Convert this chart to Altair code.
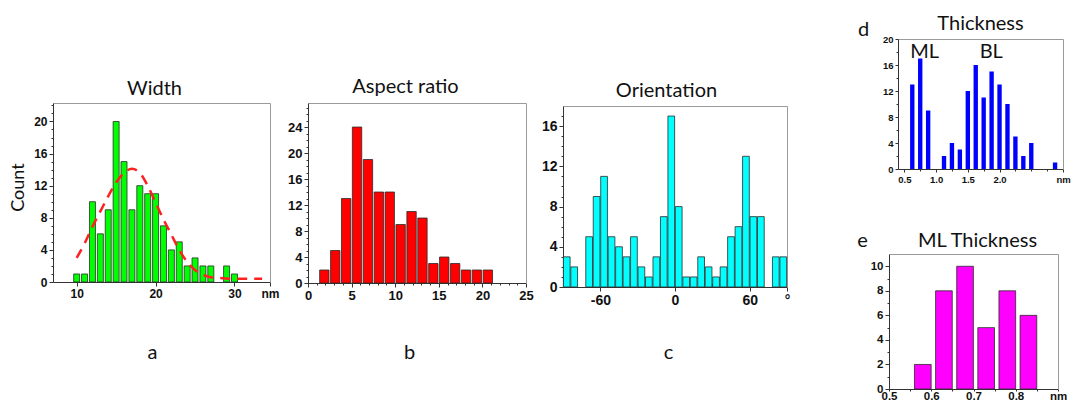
import altair as alt
import pandas as pd

W, H = 1071, 404
TF = "Lato"             # titles
LF = "Liberation Sans"  # tick labels
AX = "#333333"
BOX = "#9a9a9a"

# ---------------- data ----------------
width_nm = [10, 11, 12, 13, 14, 15, 16, 17, 18, 19, 20, 21, 22, 23, 24, 25, 26, 27, 28, 29, 30]
width_count = [1, 1, 10, 6, 9, 20, 15, 9, 12, 11, 11, 7, 4, 5, 2, 3, 2, 2, 0, 2, 1]
fit_nm = [10, 11, 12, 13, 14, 15, 16, 17, 18, 19, 20, 21, 22, 23, 24, 25, 26, 27, 28, 30, 33.5]
fit_count = [3.0, 4.8, 6.9, 8.8, 10.7, 12.4, 13.6, 14.1, 13.6, 12.0, 9.9, 7.8, 5.9, 4.0,
             2.5, 1.5, 0.9, 0.6, 0.5, 0.4, 0.4]

aspect_center = [1.875, 3.125, 4.375, 5.625, 6.875, 8.125, 9.375, 10.625, 11.875,
                 13.125, 14.375, 15.625, 16.875, 18.125, 19.375, 20.625]
aspect_count = [2, 5, 13, 24, 19, 14, 14, 9, 11, 10, 3, 4, 3, 2, 2, 2]

orient_center = [-87, -81, -75, -69, -63, -57, -51, -45, -39, -33, -27, -21, -15, -9, -3,
                 3, 9, 15, 21, 27, 33, 39, 45, 51, 57, 63, 69, 75, 81, 87]
orient_count = [3, 2, 0, 5, 9, 11, 5, 4, 3, 5, 2, 1, 3, 7, 17,
                8, 1, 1, 3, 2, 1, 2, 5, 6, 13, 7, 7, 0, 3, 3]

thick_center = [0.625, 0.75, 0.875, 1.0, 1.125, 1.25, 1.375, 1.5, 1.625, 1.75,
                1.875, 2.0, 2.125, 2.25, 2.375, 2.5, 2.625, 2.75, 2.875]
thick_count = [13, 17, 9, 0, 2, 4, 3, 12, 16, 11, 15, 13, 10, 5, 2, 4, 0, 0, 1]
thick_note = ["ML", "BL"]
thick_note_x = [0.82, 1.87]
thick_note_y = [18.0, 18.0]

ml_center = [0.58, 0.63, 0.68, 0.73, 0.78, 0.83]
ml_count = [2, 8, 10, 5, 8, 6]


def bars_df(centers, counts, binw, frac):
    df = pd.DataFrame({"c": centers, "n": counts})
    df = df[df["n"] > 0].copy()
    df["x0"] = df["c"] - binw * frac / 2
    df["x1"] = df["c"] + binw * frac / 2
    df["z"] = 0
    return df


panels = {
    "a": dict(df=bars_df(width_nm, width_count, 1.0, 0.76), fill="#00ff00", stroke="#2b2b2b", sw=0.8,
              xdom=[7, 34.5], xr=[53, 270], ydom=[0, 22.3], yr=[282, 103],
              xt=[10, 20, 30, 34.5], xexpr="datum.value > 34 ? 'nm' : format(datum.value, 'd')",
              yt=[0, 4, 8, 12, 16, 20], xm=[], ym=[v for v in range(1, 23) if v % 4],
              lfs=12, xts=4, xlp=2, title="Width", tpos=(154, 88), letter="a", lpos=(152, 352)),
    "b": dict(df=bars_df(aspect_center, aspect_count, 1.25, 0.86), fill="#ff0000", stroke="#2b2b2b", sw=0.8,
              xdom=[0, 25], xr=[308, 526], ydom=[0, 27.7], yr=[283, 103],
              xt=[0, 5, 10, 15, 20, 25], xexpr="format(datum.value, 'd')",
              yt=[0, 4, 8, 12, 16, 20, 24], xm=[v for v in range(1, 25) if v % 5],
              ym=[v for v in range(1, 28) if v % 4],
              lfs=13, xts=4, xlp=2, title="Aspect ratio", tpos=(405, 86), letter="b", lpos=(409, 352)),
    "c": dict(df=bars_df(orient_center, orient_count, 6.0, 0.9), fill="#00ffff", stroke="#2b2b2b", sw=0.8,
              xdom=[-90, 90], xr=[563, 787], ydom=[0, 18], yr=[287, 106],
              xt=[-60, 0, 60, 90],
              xexpr="datum.value > 80 ? '°' : (datum.value < 0 ? '-' + format(-datum.value, 'd') : format(datum.value, 'd'))",
              yt=[0, 4, 8, 12, 16], xm=[], ym=[v for v in range(1, 18) if v % 4],
              lfs=14, xts=4, xlp=2, title="Orientation", tpos=(666, 90), letter="c", lpos=(668, 352)),
    "d": dict(df=bars_df(thick_center, thick_count, 0.125, 0.55), fill="#0000ff", stroke="#0000ff", sw=0,
              xdom=[0.4, 3.0], xr=[898, 1063], ydom=[0, 20], yr=[169, 39],
              xt=[0.5, 1.0, 1.5, 2.0, 3.0], xexpr="datum.value > 2.9 ? 'nm' : format(datum.value, '.1f')",
              yt=[0, 4, 8, 12, 16, 20], xm=[0.75, 1.25, 1.75, 2.25, 2.5, 2.75],
              ym=[2, 6, 10, 14, 18],
              lfs=9.5, xts=3, xlp=2, title="Thickness", tpos=(980, 23), letter="d", lpos=(863, 29)),
    "e": dict(df=bars_df(ml_center, ml_count, 0.05, 0.79), fill="#ff00ff", stroke="#2b2b2b", sw=0.8,
              xdom=[0.5, 0.9], xr=[889, 1058], ydom=[0, 11], yr=[389, 254],
              xt=[0.5, 0.6, 0.7, 0.8, 0.9], xexpr="datum.value > 0.85 ? 'nm' : format(datum.value, '.1f')",
              yt=[0, 2, 4, 6, 8, 10], xm=[0.55, 0.65, 0.75, 0.85], ym=[1, 3, 5, 7, 9],
              lfs=11.5, xts=2, xlp=-1, title="ML Thickness", tpos=(977, 240), letter="e", lpos=(862, 240)),
}


def sx(p):
    return alt.Scale(domain=p["xdom"], range=p["xr"], nice=False, zero=False)


def sy(p):
    return alt.Scale(domain=p["ydom"], range=p["yr"], nice=False, zero=False)


def axis(**kw):
    base = dict(grid=False, labelFont=LF, labelFontWeight="bold", labelColor="#111111",
                tickColor=AX, domainColor=AX, tickWidth=1, domainWidth=1,
                labelFlush=False, labelOverlap=False,
                titleFont=TF, titleFontWeight="normal", titleColor="#111111",
                titleAlign="center", titleBaseline="middle")
    base.update(kw)
    return alt.Axis(**base)


layers = []
for key, p in panels.items():
    df = p["df"]
    yb, yt_ = p["yr"]
    xl, xrr = p["xr"]
    # --- bars with main axes
    xax = axis(orient="bottom", offset=yb - H, values=p["xt"], labelExpr=p["xexpr"],
               tickSize=p["xts"], labelFontSize=p["lfs"], labelPadding=p["xlp"],
               titleFontSize=20, titleX=p["lpos"][0], titleY=p["lpos"][1] - yb, titleAngle=0)
    if key in ("a", "b", "c"):
        xenc = alt.X("x0:Q", scale=sx(p), axis=xax, title=p["letter"])
    else:
        xenc = alt.X("x0:Q", scale=sx(p), axis=xax, title=None)
    yax_kw = dict(orient="left", offset=-xl, values=p["yt"], format="d",
                  tickSize=4 if key != "d" else 3, labelFontSize=p["lfs"], labelPadding=2)
    if key == "a":
        yax = axis(titleFontSize=18, titleX=18 - xl, titleY=187, titleAngle=270, **yax_kw)
        yenc = alt.Y("n:Q", scale=sy(p), axis=yax, title="Count")
    elif key in ("d", "e"):
        yax = axis(titleFontSize=20, titleX=p["lpos"][0] - xl, titleY=p["lpos"][1], titleAngle=0, **yax_kw)
        yenc = alt.Y("n:Q", scale=sy(p), axis=yax, title=p["letter"])
    else:
        yenc = alt.Y("n:Q", scale=sy(p), axis=axis(**yax_kw), title=None)
    bar_kw = dict(fill=p["fill"], stroke=p["stroke"], strokeWidth=p["sw"])
    layers.append(alt.Chart(df).mark_bar(**bar_kw).encode(x=xenc, x2="x1", y=yenc, y2="z"))

    # --- frame (top + right) with panel title
    top_ax = axis(orient="top", offset=-yt_, ticks=False, labels=False, domainColor=BOX,
                  titleFontSize=20, titleX=p["tpos"][0], titleY=p["tpos"][1] - yt_, titleAngle=0)
    right_ax = axis(orient="right", offset=xrr - W, ticks=False, labels=False, domainColor=BOX)
    layers.append(alt.Chart(df).mark_point(opacity=0).encode(
        x=alt.X("c:Q", scale=sx(p), axis=top_ax, title=p["title"]),
        y=alt.Y("n:Q", scale=sy(p), axis=right_ax, title=None)))

    # --- minor ticks
    if p["xm"] or p["ym"]:
        if p["xm"]:
            xm_enc = alt.X("c:Q", scale=sx(p), title=None,
                           axis=axis(orient="bottom", offset=yb - H, values=p["xm"], labels=False,
                                     domain=False, tickSize=2))
        else:
            xm_enc = alt.X("c:Q", scale=sx(p), axis=None)
        ym_enc = alt.Y("n:Q", scale=sy(p), title=None,
                       axis=axis(orient="left", offset=-xl, values=p["ym"], labels=False,
                                 domain=False, tickSize=2))
        layers.append(alt.Chart(df).mark_point(opacity=0).encode(x=xm_enc, y=ym_enc))

# inward minor ticks on the orientation panel
pc = panels["c"]
layers.append(alt.Chart(pc["df"]).mark_point(opacity=0).encode(
    x=alt.X("c:Q", scale=sx(pc), title=None,
            axis=axis(orient="top", offset=-pc["yr"][0], values=[-90, -30, 30], labels=False,
                      domain=False, tickSize=4)),
    y=alt.Y("n:Q", scale=sy(pc), axis=None)))

# fitted curve on the width panel
pa = panels["a"]
fit_df = pd.DataFrame({"fx": fit_nm, "fy": fit_count})
layers.append(alt.Chart(fit_df).mark_line(color="#ff2020", strokeWidth=2.5, strokeDash=[10, 7],
                                          interpolate="monotone").encode(
    x=alt.X("fx:Q", scale=sx(pa), axis=None),
    y=alt.Y("fy:Q", scale=sy(pa), axis=None)))

# ML / BL annotations on the thickness panel
pd_ = panels["d"]
note_df = pd.DataFrame({"tx": thick_note_x, "ty": thick_note_y, "t": thick_note})
layers.append(alt.Chart(note_df).mark_text(font=TF, fontSize=20, color="#111111",
                                           align="center", baseline="middle").encode(
    x=alt.X("tx:Q", scale=sx(pd_), axis=None),
    y=alt.Y("ty:Q", scale=sy(pd_), axis=None),
    text="t:N"))

chart = alt.layer(*layers).resolve_scale(x="independent", y="independent").properties(
    width=W, height=H, padding=0, background="white",
    autosize=alt.AutoSizeParams(type="none"),
).configure_view(stroke=None)

chart.save("out.html", embed_options={"renderer": "svg", "actions": False})
